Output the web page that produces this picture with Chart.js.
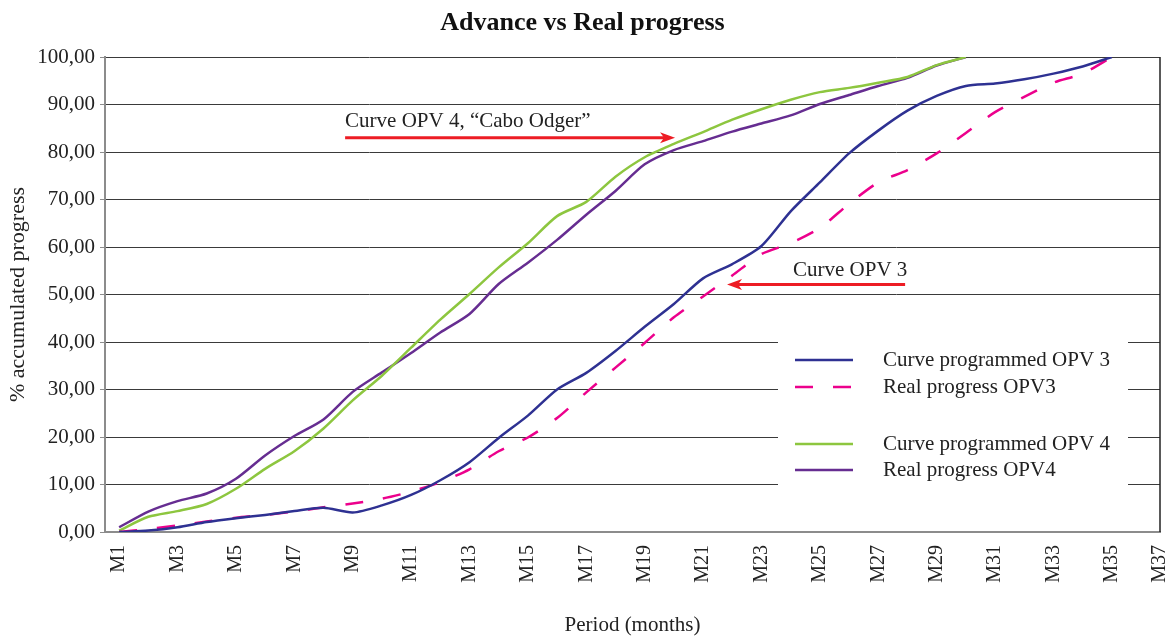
<!DOCTYPE html>
<html>
<head>
<meta charset="utf-8">
<script src="https://cdn.jsdelivr.net/npm/chart.js@4.4.1/dist/chart.umd.min.js"></script>
<style>
  html, body { margin: 0; padding: 0; background: #fff; }
  #wrap { width: 1168px; height: 638px; }
</style>
</head>
<body>
<div id="wrap"><canvas id="progressChart" width="1168" height="638"></canvas></div>
<script>
// month number of each reading (M1 .. M35)
const months = [1, 2, 3, 4, 5, 6, 7, 8, 9, 10, 11, 12, 13, 14, 15, 16, 17, 18,
  19, 20, 21, 22, 23, 24, 25, 26, 27, 28, 29, 30, 31, 32, 33, 34, 35];

// tick labels shown on the period axis
const xTickLabels = ['M1', 'M3', 'M5', 'M7', 'M9', 'M11', 'M13', 'M15', 'M17', 'M19',
  'M21', 'M23', 'M25', 'M27', 'M29', 'M31', 'M33', 'M35', 'M37'];

// % accumulated progress
const programmedOpv3 = [0, 0.3, 1.0, 2.1, 2.9, 3.6, 4.4, 5.1, 4.1, 5.6, 7.8, 10.9, 14.7,
  19.8, 24.5, 30.0, 33.5, 38.1, 43.2, 48.0, 53.4, 56.4, 60.2, 67.5, 73.6, 79.7, 84.5,
  88.7, 91.8, 93.9, 94.4, 95.3, 96.5, 98.0, 100];
const realOpv3 = [0, 0.6, 1.4, 2.2, 3.0, 3.6, 4.3, 5.2, 6.0, 7.0, 8.5, 10.5, 13.2, 17.0,
  19.9, 24.0, 29.4, 34.6, 39.8, 45.2, 49.6, 54.0, 58.5, 60.8, 64.0, 69.1, 73.6, 76.2,
  79.7, 84.0, 88.4, 91.6, 94.6, 96.5, 100];
const programmedOpv4 = [0.3, 3.2, 4.4, 5.9, 9.1, 13.3, 17.0, 21.8, 27.7, 32.9, 38.8, 44.7,
  50.1, 55.7, 60.8, 66.5, 69.5, 74.8, 78.9, 81.7, 84.2, 86.8, 89.0, 91.0, 92.6, 93.5,
  94.6, 95.8, 98.3, 100, null, null, null, null, null];
const realOpv4 = [1.0, 4.3, 6.5, 8.1, 11.2, 16.1, 20.2, 23.7, 29.5, 33.6, 37.7, 42.0, 45.9,
  52.2, 56.7, 61.5, 66.8, 71.8, 77.4, 80.4, 82.3, 84.3, 86.0, 87.7, 90.1, 92.0, 93.9,
  95.6, 98.2, 100, null, null, null, null, null];

const FONT = 'Liberation Serif, Times New Roman, serif';
const TEXT = '#222';
const X_MIN = 0.516;
const X_MAX = 36.65;

// notes drawn with red arrows (positions in axis units)
const notes = [
  { text: 'Curve OPV 4, \u201cCabo Odger\u201d', tx: 8.74, ty: 85.2, from: 8.74, to: 20.04, ay: 83.0 },
  { text: 'Curve OPV 3', tx: 24.08, ty: 53.9, from: 27.92, to: 21.82, ay: 52.1 }
];

function toPoints(arr) {
  return months.map((m, i) => ({ x: m, y: arr[i] })).filter(p => p.y !== null);
}

// right frame line + legend box inside the plot
const frameAndLegend = {
  id: 'frameAndLegend',
  beforeDatasetsDraw(chart) {
    const ctx = chart.ctx;
    const a = chart.chartArea;
    ctx.save();
    ctx.strokeStyle = '#222';
    ctx.lineWidth = 1.5;
    ctx.beginPath();
    ctx.moveTo(a.right, a.top);
    ctx.lineTo(a.right, a.bottom);
    ctx.stroke();

    const bx = a.right - 382, by = a.top + 263;
    ctx.fillStyle = '#fff';
    ctx.fillRect(bx, by, 350, 185);

    const rows = [303, 330, 387, 413];
    chart.data.datasets.forEach((ds, i) => {
      const y = a.top + rows[i];
      ctx.strokeStyle = ds.borderColor;
      ctx.lineWidth = 2.5;
      ctx.setLineDash(ds.borderDash || []);
      ctx.beginPath();
      ctx.moveTo(bx + 17, y);
      ctx.lineTo(bx + 75, y);
      ctx.stroke();
      ctx.setLineDash([]);
      ctx.fillStyle = TEXT;
      ctx.font = '21px ' + FONT;
      ctx.textBaseline = 'middle';
      ctx.textAlign = 'left';
      ctx.fillText(ds.label, bx + 105, y);
    });
    ctx.restore();
  },
  afterDatasetsDraw(chart) {
    const ctx = chart.ctx;
    const xs = chart.scales.x, ys = chart.scales.y;
    ctx.save();
    notes.forEach(n => {
      ctx.fillStyle = TEXT;
      ctx.font = '21px ' + FONT;
      ctx.textBaseline = 'alphabetic';
      ctx.textAlign = 'left';
      ctx.fillText(n.text, xs.getPixelForValue(n.tx), ys.getPixelForValue(n.ty));

      const x1 = xs.getPixelForValue(n.from);
      const x2 = xs.getPixelForValue(n.to);
      const y = ys.getPixelForValue(n.ay);
      const dir = x2 > x1 ? 1 : -1;
      ctx.strokeStyle = '#ed1c24';
      ctx.fillStyle = '#ed1c24';
      ctx.lineWidth = 3;
      ctx.beginPath();
      ctx.moveTo(x1, y);
      ctx.lineTo(x2 - dir * 10, y);
      ctx.stroke();
      ctx.beginPath();
      ctx.moveTo(x2, y);
      ctx.lineTo(x2 - dir * 15, y - 5.5);
      ctx.lineTo(x2 - dir * 11, y);
      ctx.lineTo(x2 - dir * 15, y + 5.5);
      ctx.closePath();
      ctx.fill();
    });
    ctx.restore();
  }
};

const ctx = document.getElementById('progressChart');
new Chart(ctx, {
  type: 'line',
  data: {
    datasets: [
      { label: 'Curve programmed OPV 3', data: toPoints(programmedOpv3), borderColor: '#2e3192' },
      { label: 'Real progress OPV3', data: toPoints(realOpv3), borderColor: '#ec008c', borderDash: [18, 20] },
      { label: 'Curve programmed OPV 4', data: toPoints(programmedOpv4), borderColor: '#8dc63f' },
      { label: 'Real progress OPV4', data: toPoints(realOpv4), borderColor: '#662d91' }
    ]
  },
  options: {
    responsive: false,
    animation: false,
    layout: { padding: { left: 5, right: 8, top: 0, bottom: 0 } },
    elements: {
      point: { radius: 0 },
      line: { borderWidth: 2.5, tension: 0.25, fill: false }
    },
    plugins: {
      legend: { display: false },
      tooltip: { enabled: false },
      title: {
        display: true,
        text: 'Advance vs Real progress',
        color: '#111',
        font: { family: FONT, size: 26, weight: 'bold' },
        padding: { top: 8, bottom: 17.8 }
      }
    },
    scales: {
      x: {
        type: 'linear',
        min: X_MIN,
        max: X_MAX,
        afterBuildTicks: s => {
          s.ticks = xTickLabels.map((l, i) => ({ value: Math.min(1 + 2 * i, X_MAX) }));
        },
        ticks: {
          autoSkip: false,
          minRotation: 90,
          maxRotation: 90,
          padding: 13,
          color: TEXT,
          font: { family: FONT, size: 20 },
          callback: (v, i) => xTickLabels[i]
        },
        grid: { display: false, drawTicks: false },
        border: { display: true, color: '#8c8c8c', width: 2 },
        title: {
          display: true,
          text: 'Period (months)',
          color: TEXT,
          font: { family: FONT, size: 21 },
          padding: 0
        },
        afterFit: s => {
          s.height = 106;
          s.paddingLeft = 0;
          s.paddingRight = 0;
        }
      },
      y: {
        min: 0,
        max: 100,
        ticks: {
          stepSize: 10,
          padding: 5,
          color: TEXT,
          font: { family: FONT, size: 21 },
          callback: v => v.toFixed(2).replace('.', ',')
        },
        grid: { color: '#3a3a3a', lineWidth: 1, tickLength: 5, tickColor: '#8c8c8c' },
        border: { color: '#8c8c8c', width: 2 },
        title: {
          display: true,
          text: '% accumulated progress',
          color: TEXT,
          font: { family: FONT, size: 22 },
          padding: 0
        },
        afterFit: s => {
          s.width = 100;
          s.paddingTop = 0;
          s.paddingBottom = 0;
        }
      }
    }
  },
  plugins: [frameAndLegend]
});
</script>
</body>
</html>
